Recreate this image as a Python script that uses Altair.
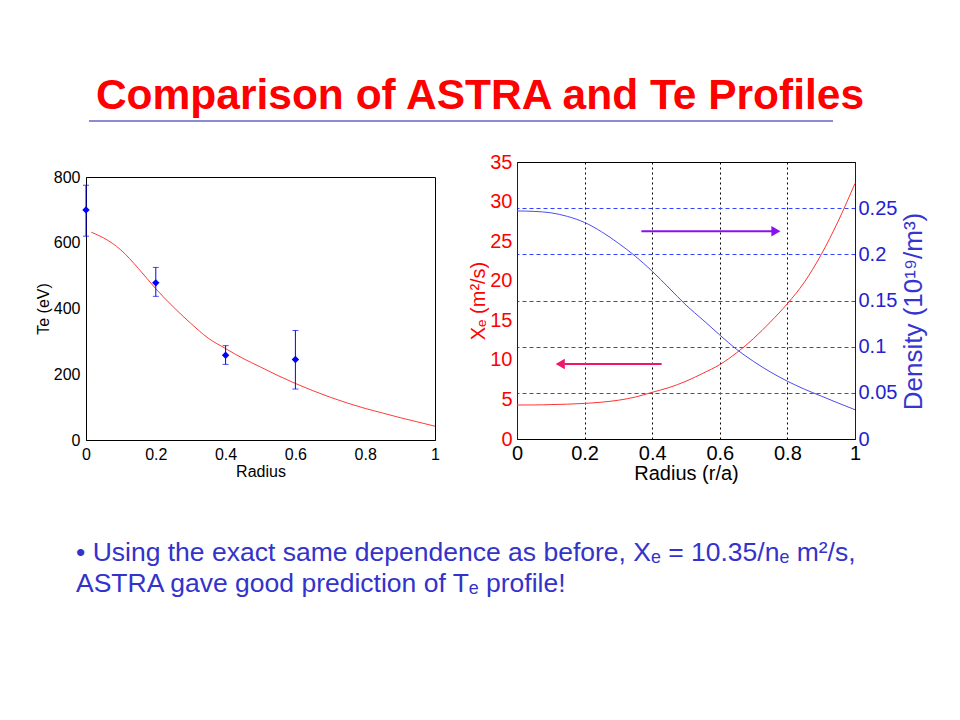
import altair as alt
import pandas as pd

FONT = "Liberation Sans"

# ---------------- data ----------------
# left panel: measured Te with error bars
meas_r = [0.0, 0.2, 0.4, 0.6]
meas_te = [700, 478, 258, 245]
meas_lo = [620, 437, 230, 155]
meas_hi = [775, 525, 287, 333]

# left panel: ASTRA Te profile
astra_r = [0.015, 0.05, 0.10, 0.15, 0.20, 0.25, 0.30, 0.35, 0.40, 0.45, 0.50,
           0.55, 0.60, 0.65, 0.70, 0.75, 0.80, 0.85, 0.90, 0.95, 1.00]
astra_te = [632, 615, 578, 522, 460, 405, 355, 310, 278, 248, 222,
            196, 172, 150, 130, 112, 96, 82, 68, 55, 42]

# right panel: chi_e and density profiles
prof_r = [0.00, 0.05, 0.10, 0.15, 0.20, 0.25, 0.30, 0.35, 0.40, 0.45, 0.50,
          0.55, 0.60, 0.65, 0.70, 0.75, 0.80, 0.85, 0.90, 0.95, 1.00]
prof_xe = [4.3, 4.3, 4.35, 4.4, 4.5, 4.65, 4.9, 5.3, 5.9, 6.5, 7.3,
           8.3, 9.4, 10.9, 12.7, 14.8, 17.1, 19.8, 23.3, 27.5, 32.3]
prof_ne = [0.247, 0.2465, 0.245, 0.241, 0.2345, 0.2245, 0.212, 0.198, 0.1817, 0.1635, 0.145,
           0.129, 0.1126, 0.097, 0.084, 0.0725, 0.0626, 0.054, 0.0465, 0.039, 0.0317]

# arrows (annotation, in data units)
pink_arrow_r = [0.428, 0.14]
pink_arrow_xe = 9.47
pink_head_r = 0.128
purple_arrow_r = [0.368, 0.755]
purple_arrow_ne = 0.225
purple_head_r = 0.766

radius_ticks = [0, 0.2, 0.4, 0.6, 0.8, 1]
te_ticks = [0, 200, 400, 600, 800]
xe_ticks = [0, 5, 10, 15, 20, 25, 30, 35]
ne_ticks = [0, 0.05, 0.1, 0.15, 0.2, 0.25]

title_text = "Comparison of ASTRA and Te Profiles"
note_lines = ["\u2022 Using the exact same dependence as before, X\u2091 = 10.35/n\u2091 m\u00b2/s,",
              "ASTRA gave good prediction of T\u2091 profile!"]

NOSTROKE = alt.ViewBackground(stroke="transparent")
FRAME = alt.ViewBackground(stroke="black", strokeWidth=1)

# ---------------- left panel ----------------
meas_df = pd.DataFrame({"r": meas_r, "te": meas_te, "lo": meas_lo, "hi": meas_hi})
astra_df = pd.DataFrame({"r": astra_r, "te": astra_te})

axL_common = dict(labelFont=FONT, titleFont=FONT, labelFontSize=16, titleFontSize=16,
                  titleFontWeight="normal", labelColor="black", titleColor="black",
                  ticks=False, tickSize=0, domainColor="black", grid=False)
xL = alt.X("r:Q", scale=alt.Scale(domain=[0, 1], nice=False),
           axis=alt.Axis(values=radius_ticks, format="~g", title="Radius", labelFlush=False,
                         labelPadding=6, titlePadding=1, **axL_common))
yL = alt.Y("te:Q", scale=alt.Scale(domain=[0, 800], nice=False),
           axis=alt.Axis(values=te_ticks, title="Te (eV)", labelPadding=6, titlePadding=2,
                         **axL_common))

astra_line = alt.Chart(astra_df).mark_line(color="#FF3B3B", strokeWidth=1,
                                           interpolate="monotone").encode(x=xL, y=yL)
err = alt.Chart(meas_df).mark_errorbar(ticks={"size": 6}, color="#0000FF", thickness=1).encode(
    x=alt.X("r:Q"), y=alt.Y("lo:Q", title="Te (eV)"), y2="hi:Q")
pts = alt.Chart(meas_df).mark_point(shape="diamond", filled=True, size=55, color="#0000FF",
                                    opacity=1).encode(x=xL, y=yL)

left_plot = alt.layer(astra_line, err, pts).properties(width=349, height=263, view=FRAME)

spacer = alt.Chart(alt.Data(values=[{}])).mark_text(text=" ").encode(
    x=alt.value(0), y=alt.value(0)).properties(width=10, height=1, view=NOSTROKE)

left_col = alt.vconcat(spacer, left_plot, spacing=0)

# ---------------- right panel ----------------
prof_df = pd.DataFrame({"r": prof_r, "xe": prof_xe, "ne": prof_ne})
RED = "#FF0000"
BLUE = "#2323D0"

xR = alt.X("r:Q", scale=alt.Scale(domain=[0, 1], nice=False),
           axis=alt.Axis(values=radius_ticks, format="~g", title="Radius (r/a)", labelFlush=False,
                         labelFont=FONT, titleFont=FONT, labelFontSize=20, titleFontSize=20,
                         titleFontWeight="normal", labelColor="black", titleColor="black",
                         ticks=False, tickSize=0, labelPadding=4, titlePadding=0,
                         domainColor="black", grid=True, gridColor="black",
                         gridDash=[2, 3], gridWidth=1))
yXe = alt.Y("xe:Q", scale=alt.Scale(domain=[0, 35], nice=False),
            axis=alt.Axis(values=xe_ticks, title="X\u2091 (m\u00b2/s)", orient="left",
                          labelFont=FONT, titleFont=FONT, labelFontSize=20, titleFontSize=20,
                          titleFontWeight="normal", labelColor=RED, titleColor=RED,
                          ticks=False, tickSize=0, labelPadding=5, titlePadding=1,
                          domainColor="#0000FF", grid=False))
yNe = alt.Y("ne:Q", scale=alt.Scale(domain=[0, 0.3], nice=False),
            axis=alt.Axis(values=ne_ticks, format="~g", title="Density (10\u00b9\u2079/m\u00b3)",
                          orient="right", labelFont=FONT, titleFont=FONT, labelFontSize=20,
                          titleFontSize=26, titleFontWeight="normal", labelColor=BLUE,
                          titleColor="#3535D0", ticks=False, tickSize=0, labelPadding=3,
                          titlePadding=4, titleAngle=270, titleBaseline="top", titleY=149,
                          domainColor="#0000FF", grid=True, gridColor="#3344FF",
                          gridDash=[4, 3], gridWidth=1))

xe_line = alt.Chart(prof_df).mark_line(color="#FF3333", strokeWidth=1,
                                       interpolate="monotone").encode(x=xR, y=yXe)
pink_df = pd.DataFrame({"r": [pink_arrow_r[0]], "r2": [pink_arrow_r[1]], "xe": [pink_arrow_xe]})
pink_head_df = pd.DataFrame({"r": [pink_head_r], "xe": [pink_arrow_xe]})
pink_rule = alt.Chart(pink_df).mark_rule(color="#F0166E", strokeWidth=2).encode(
    x=xR, x2="r2:Q", y=yXe)
pink_head = alt.Chart(pink_head_df).mark_point(shape="triangle-left", filled=True, size=110,
                                               color="#F0166E", opacity=1).encode(x=xR, y=yXe)

ne_line = alt.Chart(prof_df).mark_line(color="#4C4CF0", strokeWidth=1,
                                       interpolate="monotone").encode(x=xR, y=yNe)
purple_df = pd.DataFrame({"r": [purple_arrow_r[0]], "r2": [purple_arrow_r[1]], "ne": [purple_arrow_ne]})
purple_head_df = pd.DataFrame({"r": [purple_head_r], "ne": [purple_arrow_ne]})
purple_rule = alt.Chart(purple_df).mark_rule(color="#8A10F0", strokeWidth=2).encode(
    x=xR, x2="r2:Q", y=yNe)
purple_head = alt.Chart(purple_head_df).mark_point(shape="triangle-right", filled=True, size=110,
                                                   color="#8A10F0", opacity=1).encode(x=xR, y=yNe)

right_plot = alt.layer(
    alt.layer(xe_line, pink_rule, pink_head),
    alt.layer(ne_line, purple_rule, purple_head),
).resolve_scale(y="independent").properties(width=338, height=277, view=FRAME)

body = alt.hconcat(left_col, right_plot, spacing=28)

# ---------------- header & footer ----------------
header = alt.layer(
    alt.Chart(alt.Data(values=[{"t": title_text}])).mark_text(
        font=FONT, fontSize=42.5, fontWeight="bold", color="#FF0000", align="center",
        baseline="alphabetic").encode(text="t:N", x=alt.value(394), y=alt.value(95)),
    alt.Chart(alt.Data(values=[{}])).mark_rule(color="#1A1AA6", strokeWidth=1.2).encode(
        x=alt.value(3), x2=alt.value(747), y=alt.value(107)),
).properties(width=780, height=136, view=NOSTROKE)

footer = alt.layer(
    alt.Chart(alt.Data(values=[{"t": note_lines[0]}])).mark_text(
        font=FONT, fontSize=26.5, color="#3333CC", align="left", baseline="alphabetic").encode(
        text="t:N", x=alt.value(-10), y=alt.value(76)),
    alt.Chart(alt.Data(values=[{"t": note_lines[1]}])).mark_text(
        font=FONT, fontSize=26.5, color="#3333CC", align="left", baseline="alphabetic").encode(
        text="t:N", x=alt.value(-10), y=alt.value(107)),
).properties(width=780, height=140, view=NOSTROKE)

chart = alt.vconcat(header, body, footer, spacing=0).properties(
    padding={"left": 26, "top": 5, "right": 5, "bottom": 5},
    background="white",
).configure_view(stroke="black")

chart.save("out.html", embed_options={"renderer": "svg", "actions": False})
